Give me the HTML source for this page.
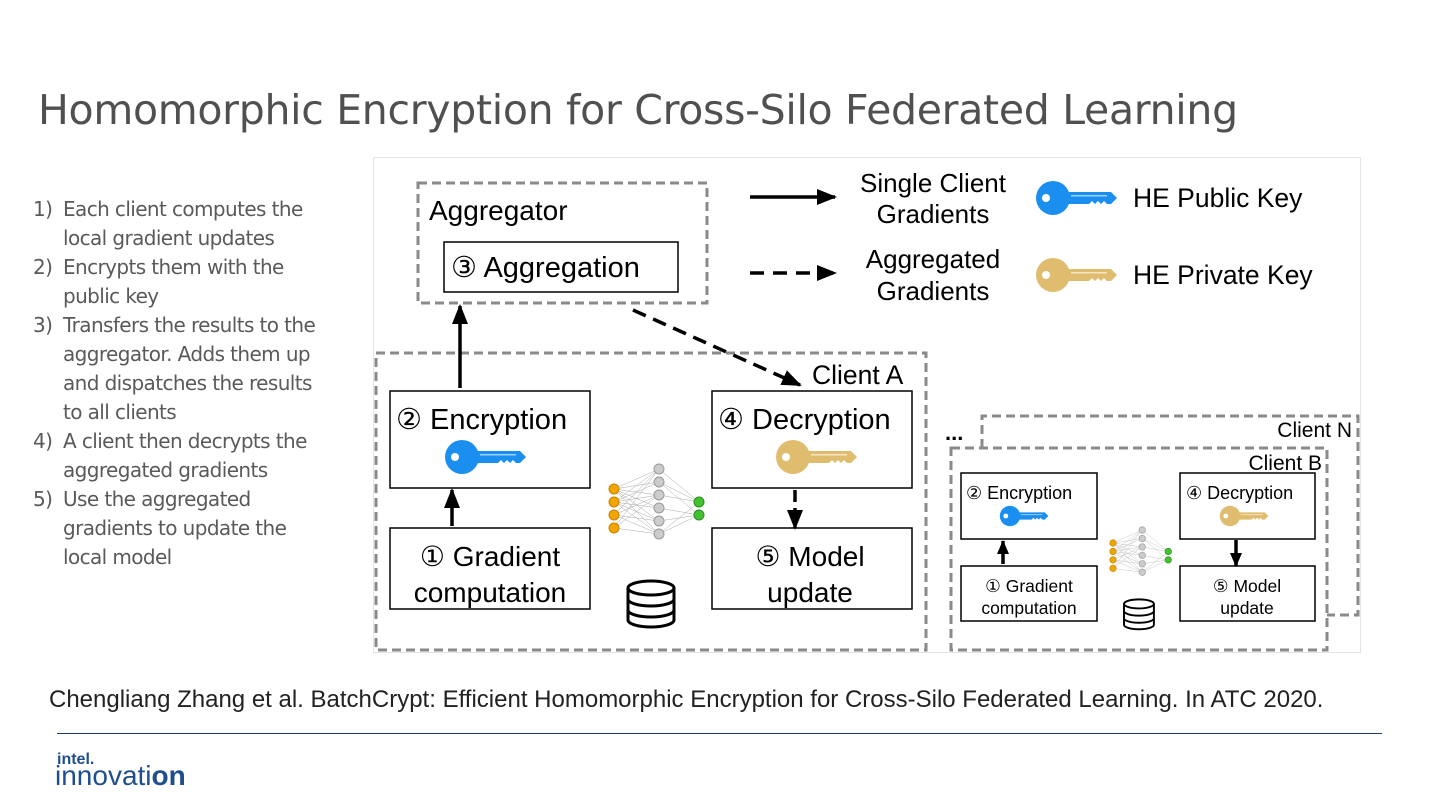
<!DOCTYPE html>
<html><head><meta charset="utf-8"><style>
body{margin:0;width:1440px;height:810px;background:#fff;overflow:hidden;position:relative;font-family:"Liberation Sans",sans-serif}
.t{position:absolute;left:38px;top:86px;font-size:41px;color:#505050;font-family:"DejaVu Sans","Liberation Sans",sans-serif;font-weight:normal;letter-spacing:-0.3px;white-space:nowrap}
.ol{position:absolute;left:33px;top:195px;font-size:20px;line-height:29px;color:#5a5a5a;font-family:"DejaVu Sans","Liberation Sans",sans-serif;letter-spacing:-0.6px;white-space:nowrap}
.ol div{padding-left:30px;position:relative}
.ol span{position:absolute;left:0}
.c{position:absolute;left:49px;top:686px;font-size:24px;color:#222;white-space:nowrap}
.ln{position:absolute;left:57px;top:733px;width:1325px;height:1px;background:#1f3e6e}
.l1{position:absolute;left:57px;top:751px;font-size:16px;color:#1e4f8c;font-weight:bold}
.l2{position:absolute;left:55px;top:760px;font-size:28px;color:#1e4f8c}
</style></head><body>
<div class="t">Homomorphic Encryption for Cross-Silo Federated Learning</div>
<div class="ol">
<div><span>1)</span>Each client computes the<br>local gradient updates</div>
<div><span>2)</span>Encrypts them with the<br>public key</div>
<div><span>3)</span>Transfers the results to the<br>aggregator. Adds them up<br>and dispatches the results<br>to all clients</div>
<div><span>4)</span>A client then decrypts the<br>aggregated gradients</div>
<div><span>5)</span>Use the aggregated<br>gradients to update the<br>local model</div>
</div>
<svg style="position:absolute;left:0;top:0" width="1440" height="810" font-family="Liberation Sans, sans-serif">
<defs>
<g id="key"><circle cx="0" cy="0" r="17"/><circle cx="-7" cy="0" r="4" fill="#fff"/><path d="M12,-6 H58 L64,0 L58,6 H54 L51,3 L48,6 L45,3 L42,6 L39,3 L36,6 H12 Z"/><rect x="18" y="-3" width="36" height="1.5" fill="#fff" opacity="0.6"/></g>
<marker id="ah" markerWidth="20" markerHeight="16" refX="18" refY="8" orient="auto" markerUnits="userSpaceOnUse"><path d="M0,0 L20,8 L0,16Z" fill="#000"/></marker>
<marker id="as" markerWidth="14" markerHeight="12" refX="13" refY="6" orient="auto" markerUnits="userSpaceOnUse"><path d="M0,0 L14,6 L0,12Z" fill="#000"/></marker>
<g id="nn">
<g stroke="#aaa" stroke-width="0.5">
<path d="M0,0 L45,-20 M0,0 L45,-7 M0,0 L45,6 M0,0 L45,19 M0,0 L45,32 M0,0 L45,45 M0,13 L45,-20 M0,13 L45,-7 M0,13 L45,6 M0,13 L45,19 M0,13 L45,32 M0,13 L45,45 M0,26 L45,-20 M0,26 L45,6 M0,26 L45,32 M0,26 L45,45 M0,39 L45,-20 M0,39 L45,6 M0,39 L45,45 M45,-20 L85,13 M45,-7 L85,13 M45,6 L85,13 M45,19 L85,26 M45,32 L85,26 M45,45 L85,26 M45,-7 L85,26 M45,45 L85,13"/></g>
<g fill="#f0a500" stroke="#c88400"><circle cx="0" cy="0" r="5"/><circle cx="0" cy="13" r="5"/><circle cx="0" cy="26" r="5"/><circle cx="0" cy="39" r="5"/></g>
<g fill="#ccc" stroke="#999"><circle cx="45" cy="-20" r="5"/><circle cx="45" cy="-7" r="5"/><circle cx="45" cy="6" r="5"/><circle cx="45" cy="19" r="5"/><circle cx="45" cy="32" r="5"/><circle cx="45" cy="45" r="5"/></g>
<g fill="#44c030" stroke="#2a9020"><circle cx="85" cy="13" r="5"/><circle cx="85" cy="26" r="5"/></g>
</g>
<g id="db" fill="#fff" stroke="#000" stroke-width="3"><path d="M0,6 V38 A23,7 0 0 0 46,38 V6"/><ellipse cx="23" cy="6" rx="23" ry="7"/><path d="M0,17 A23,7 0 0 0 46,17 M0,28 A23,7 0 0 0 46,28"/></g>
</defs>
<rect x="373.5" y="157.5" width="987" height="495" fill="none" stroke="#e4e4e4"/>
<g fill="none" stroke="#8a8a8a" stroke-width="3" stroke-dasharray="9,5">
<rect x="418" y="183" width="289" height="120"/>
<rect x="376" y="353" width="550" height="297"/>
<path d="M982,448 V416 H1358 V615 H1327"/>
<rect x="951" y="448" width="376" height="202"/>
</g>
<g fill="#fff" stroke="#000" stroke-width="1.5">
<rect x="444" y="242" width="234" height="50"/>
<rect x="390" y="391" width="200" height="97"/>
<rect x="390" y="528" width="200" height="81"/>
<rect x="712" y="391" width="200" height="97"/>
<rect x="712" y="528" width="200" height="81"/>
<rect x="961" y="473" width="136" height="66"/>
<rect x="961" y="566" width="136" height="55"/>
<rect x="1180" y="473" width="135" height="66"/>
<rect x="1180" y="566" width="135" height="55"/>
</g>
<g fill="#000">
<text x="429" y="220" font-size="28">Aggregator</text>
<text x="451" y="277" font-size="29">③ Aggregation</text>
<text x="396" y="429" font-size="29">② Encryption</text>
<text x="490" y="566" font-size="28" text-anchor="middle">① Gradient</text>
<text x="490" y="602" font-size="28" text-anchor="middle">computation</text>
<text x="718" y="429" font-size="29">④ Decryption</text>
<text x="810" y="566" font-size="28" text-anchor="middle">⑤ Model</text>
<text x="810" y="602" font-size="28" text-anchor="middle">update</text>
<text x="812" y="384" font-size="26.5">Client A</text>
<text x="933" y="192" font-size="26" text-anchor="middle">Single Client</text>
<text x="933" y="223" font-size="26" text-anchor="middle">Gradients</text>
<text x="933" y="268" font-size="26" text-anchor="middle">Aggregated</text>
<text x="933" y="300" font-size="26" text-anchor="middle">Gradients</text>
<text x="1133" y="207" font-size="26.5">HE Public Key</text>
<text x="1133" y="284" font-size="26.5">HE Private Key</text>
<text x="1352" y="437" font-size="21" text-anchor="end">Client N</text>
<text x="1322" y="470" font-size="21" text-anchor="end">Client B</text>
<text x="945" y="440" font-size="22" font-weight="bold">...</text>
<text x="966" y="499" font-size="18">② Encryption</text>
<text x="1029" y="592" font-size="17.5" text-anchor="middle">① Gradient</text>
<text x="1029" y="614" font-size="17.5" text-anchor="middle">computation</text>
<text x="1186" y="499" font-size="18">④ Decryption</text>
<text x="1247" y="592" font-size="17.5" text-anchor="middle">⑤ Model</text>
<text x="1247" y="614" font-size="17.5" text-anchor="middle">update</text>
</g>
<g stroke="#000" stroke-width="3.5" fill="none">
<line x1="460" y1="388" x2="460" y2="306" marker-end="url(#ah)"/>
<line x1="452" y1="526" x2="452" y2="490" marker-end="url(#ah)"/>
<line x1="633" y1="310" x2="800" y2="385" stroke-dasharray="14,8" marker-end="url(#ah)"/>
<line x1="795" y1="490" x2="795" y2="528" stroke-dasharray="12,6" marker-end="url(#ah)"/>
<line x1="750" y1="197" x2="835" y2="197" marker-end="url(#ah)"/>
<line x1="750" y1="273" x2="835" y2="273" stroke-dasharray="14,9" marker-end="url(#ah)"/>
<line x1="1003" y1="564" x2="1003" y2="541" marker-end="url(#as)"/>
<line x1="1236" y1="540" x2="1236" y2="566" marker-end="url(#as)"/>
</g>
<use href="#key" fill="#1a8ff0" transform="translate(462,457)"/>
<use href="#key" fill="#e0bd6e" transform="translate(793,457)"/>
<use href="#key" fill="#1a8ff0" transform="translate(1053,198)"/>
<use href="#key" fill="#e0bd6e" transform="translate(1053,275)"/>
<use href="#key" fill="#1a8ff0" transform="translate(1010,516) scale(0.6)"/>
<use href="#key" fill="#e0bd6e" transform="translate(1230,516) scale(0.6)"/>
<use href="#nn" transform="translate(614,489)"/>
<use href="#nn" transform="translate(1113,543) scale(0.65)"/>
<use href="#db" transform="translate(628,582)"/>
<use href="#db" transform="translate(1124,600) scale(0.65)"/>
</svg>
<div class="c">Chengliang Zhang et al. BatchCrypt: Efficient Homomorphic Encryption for Cross-Silo Federated Learning. In ATC 2020.</div>
<div class="ln"></div>
<div class="l1">intel.</div>
<div class="l2">innovati<b>on</b></div>
</body></html>
